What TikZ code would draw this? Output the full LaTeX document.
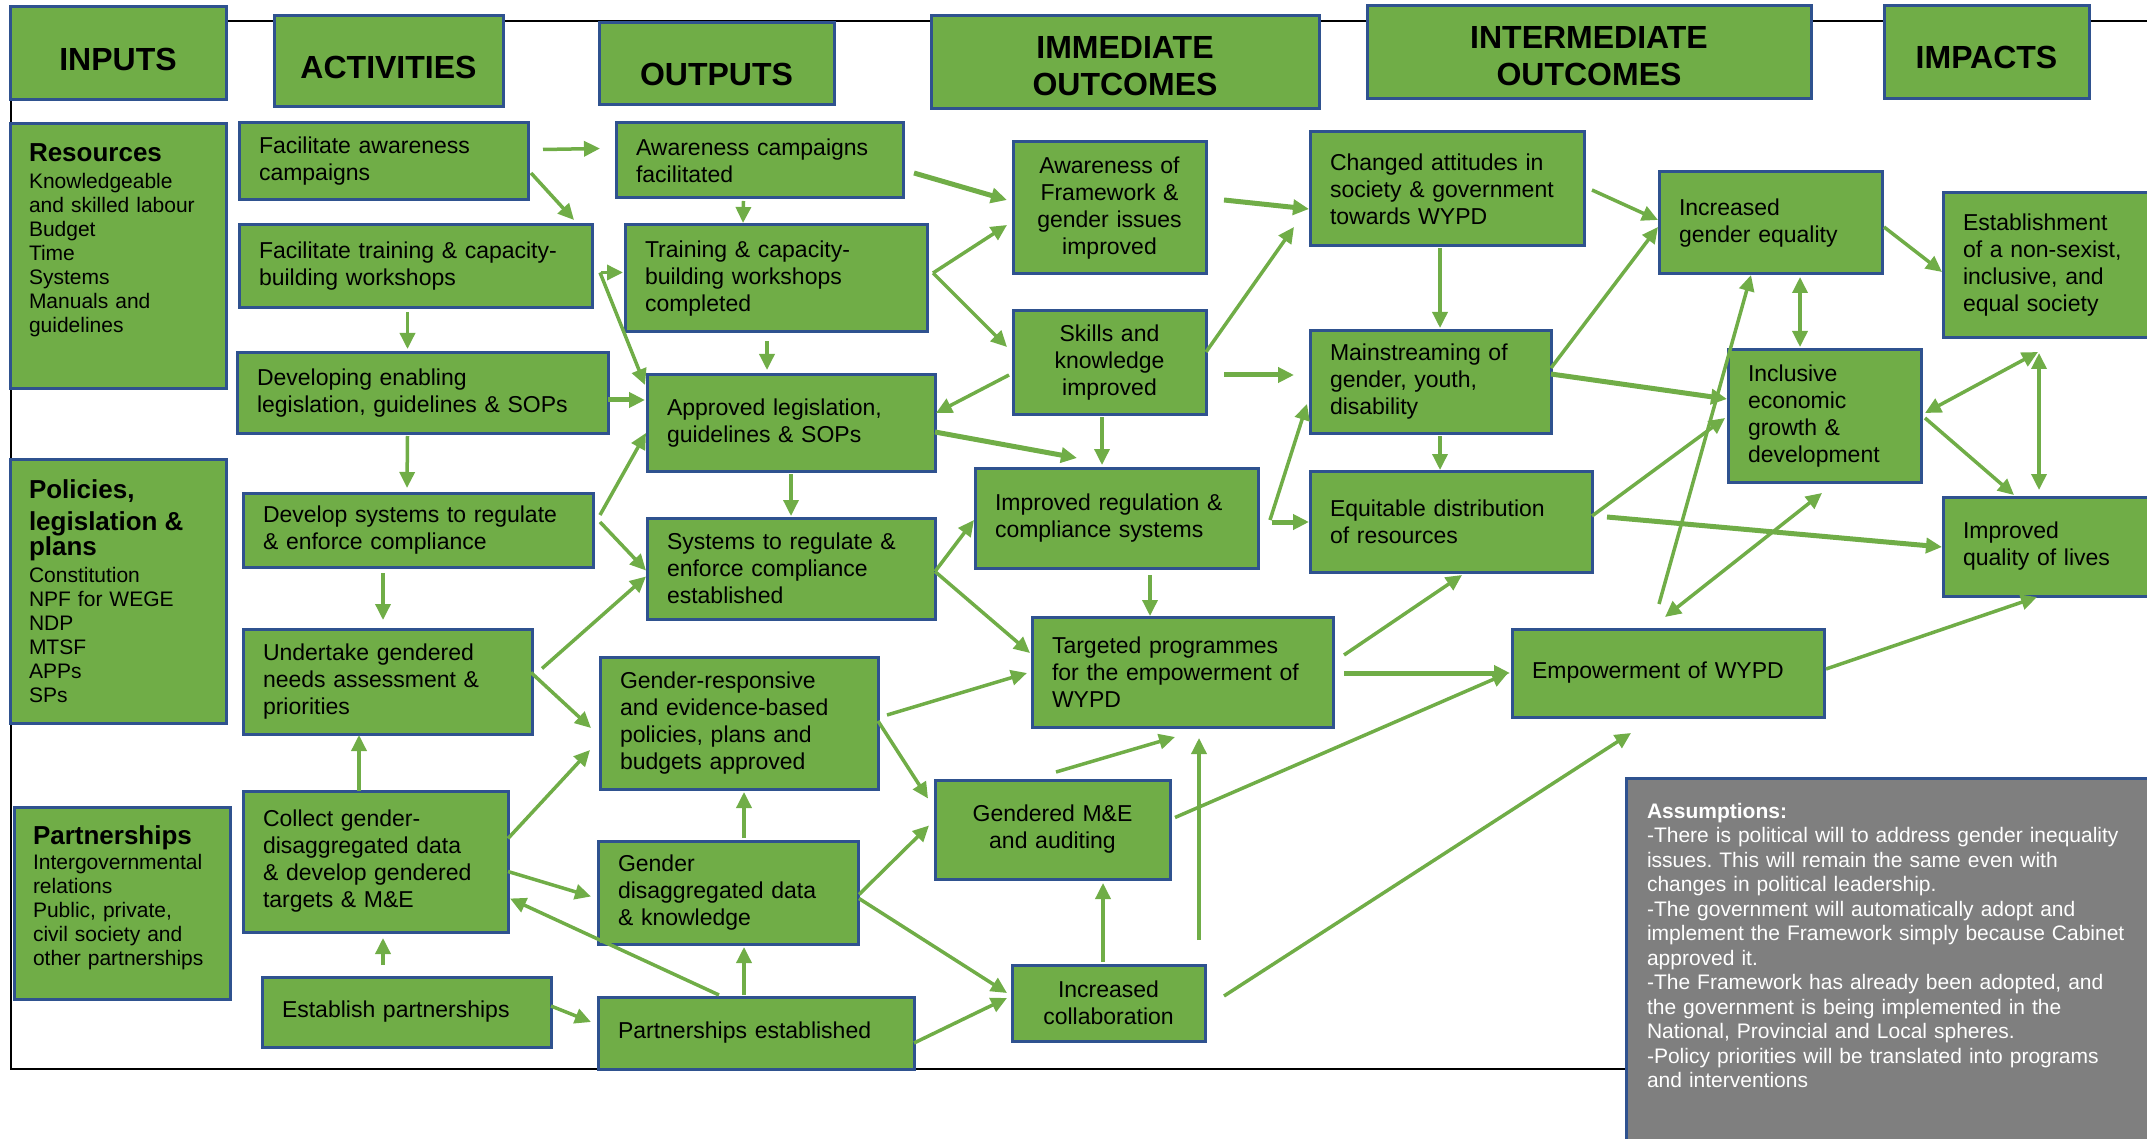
\documentclass[tikz,border=0pt]{standalone}
\usepackage{fontspec}
\setmainfont{Liberation Sans}
\frenchspacing
\usetikzlibrary{arrows.meta}
\definecolor{boxgreen}{HTML}{70AD47}
\definecolor{boxblue}{HTML}{2F528F}
\definecolor{notegray}{HTML}{7F7F7F}
\tikzstyle{box} = [draw=boxblue, fill=boxgreen, line width=3pt, 
anchor=north west, outer sep=0pt, inner xsep=20pt, inner ysep=0pt,
align=left, text=black, font=\fontsize{23}{27}\selectfont]
\tikzstyle{mid} = [box, inner xsep=15pt, align=center]
\tikzstyle{head} = [box, align=center, font=\fontsize{32}{37}\selectfont\bfseries]
\tikzstyle{input} = [box, inner xsep=19pt, font=\fontsize{21}{24}\selectfont]
\tikzstyle{note} = [box, fill=notegray, text=white, inner xsep=21pt, 
inner ysep=25pt, font=\fontsize{21}{24.5}\selectfont]
\tikzstyle{line} = [draw=boxgreen, line width=3.5pt, 
-{Triangle[length=16pt,width=15pt]}]
\tikzstyle{bold line} = [line, line width=5pt]
\tikzstyle{twoway} = [line, 
{Triangle[length=16pt,width=15pt]}-{Triangle[length=16pt,width=15pt]}]

\begin{document}
\begin{tikzpicture}[x=1pt, y=-1pt]
    \useasboundingbox (0,0) rectangle (2147,1139);
    \draw [line width=2.5pt] (11,21) rectangle (2170,1069);
    %% Headings
    \node [head, text width=176pt, minimum height=93pt, text height=34pt] (inputs) at (10,7) {INPUTS};
    \node [head, text width=189pt, minimum height=91pt, text height=34pt] (activities) at (274,16) {ACTIVITIES};
    \node [head, text width=195pt, minimum height=82pt, text height=43pt] (outputs) at (599,23) {OUTPUTS};
    \node [head, text width=348pt, minimum height=93pt, text height=29pt] (immediate) at (931,16) {IMMEDIATE\\OUTCOMES};
    \node [head, text width=404pt, minimum height=93pt, text height=29pt] (intermediate) at (1367,6) {INTERMEDIATE\\OUTCOMES};
    \node [head, text width=165pt, minimum height=93pt, text height=33pt] (impacts) at (1884,6) {IMPACTS};
    %% Inputs
    \node [input, text width=178pt, minimum height=265pt, text depth=207pt] (resources) at (10,124)
      {{\bfseries\fontsize{26}{32}\selectfont Resources}\\[3pt]Knowledgeable\\and skilled labour\\Budget\\Time\\Systems\\Manuals and\\guidelines};
    \node [input, text width=178pt, minimum height=264pt] (policies) at (10,459)
      {{\bfseries\fontsize{26}{32}\selectfont Policies,\\legislation \&\\plans}\\[3pt]Constitution\\NPF for WEGE\\NDP\\MTSF\\APPs\\SPs};
    \node [input, text width=178pt, minimum height=192pt, text depth=136pt] (partners) at (14,807)
      {{\bfseries\fontsize{26}{32}\selectfont Partnerships}\\[1pt]Intergovernmental\\relations\\Public, private,\\civil society and\\other partnerships};
    %% Activities
    \node [box, text width=249pt, minimum height=77pt] (facaware) at (239,123) {Facilitate awareness\\campaigns};
    \node [box, text width=313pt, minimum height=83pt] (factrain) at (239,225) {Facilitate training \& capacity-\\building workshops};
    \node [box, text width=331pt, minimum height=80pt] (devleg) at (237,353) {Developing enabling\\legislation, guidelines \& SOPs};
    \node [box, text width=310pt, minimum height=74pt] (devsys) at (243,493) {Develop systems to regulate\\\& enforce compliance};
    \node [box, text width=249pt, minimum height=105pt] (undertake) at (243,629) {Undertake gendered\\needs assessment \&\\priorities};
    \node [box, text width=225pt, minimum height=141pt] (collect) at (243,791) {Collect gender-\\disaggregated data\\\& develop gendered\\targets \& M\&E};
    \node [box, text width=249pt, minimum height=70pt] (estpart) at (262,977) {Establish partnerships};
    %% Outputs
    \node [box, text width=247pt, minimum height=75pt] (awarefac) at (616,123) {Awareness campaigns\\facilitated};
    \node [box, text width=262pt, minimum height=107pt] (traindone) at (625,225) {Training \& capacity-\\building workshops\\completed};
    \node [box, text width=248pt, minimum height=96pt] (apprleg) at (647,375) {Approved legislation,\\guidelines \& SOPs};
    \node [box, text width=248pt, minimum height=101pt] (sysreg) at (647,518) {Systems to regulate \&\\enforce compliance\\established};
    \node [box, text width=238pt, minimum height=132pt] (genresp) at (600,657) {Gender-responsive\\and evidence-based\\policies, plans and\\budgets approved};
    \node [box, text width=220pt, minimum height=103pt] (gendata) at (598,841) {Gender\\disaggregated data\\\& knowledge};
    \node [box, text width=276pt, minimum height=72pt] (partest) at (598,997) {Partnerships established};
    %% Immediate outcomes
    \node [mid, text width=163pt, minimum height=132pt] (awarefw) at (1013,142) {Awareness of\\Framework \&\\gender issues\\improved};
    \node [mid, text width=163pt, minimum height=103pt] (skills) at (1013,311) {Skills and\\knowledge\\improved};
    \node [box, text width=243pt, minimum height=100pt] (impreg) at (975,468) {Improved regulation \&\\compliance systems};
    \node [box, text width=261pt, minimum height=110pt] (targeted) at (1032,617) {Targeted programmes\\for the empowerment of\\WYPD};
    \node [mid, text width=205pt, minimum height=99pt] (gendme) at (935,780) {Gendered M\&E\\and auditing};
    \node [mid, text width=163pt, minimum height=76pt] (inccollab) at (1012,965) {Increased\\collaboration};
    %% Intermediate outcomes
    \node [box, text width=234pt, minimum height=114pt] (changed) at (1310,132) {Changed attitudes in\\society \& government\\towards WYPD};
    \node [box, text width=201pt, minimum height=102pt] (mainstream) at (1310,331) {Mainstreaming of\\gender, youth,\\disability};
    \node [box, text width=242pt, minimum height=101pt] (equit) at (1310,471) {Equitable distribution\\of resources};
    \node [box, text width=272pt, minimum height=88pt] (empower) at (1512,629) {Empowerment of WYPD};
    %% Impacts
    \node [box, text width=183pt, minimum height=102pt] (gendereq) at (1659,172) {Increased\\gender equality};
    \node [box, text width=153pt, minimum height=132pt] (inclusive) at (1728,350) {Inclusive\\economic\\growth \&\\development};
    \node [box, text width=187pt, minimum height=145pt] (establish) at (1943,193) {Establishment\\of a non-sexist,\\inclusive, and\\equal society};
    \node [box, text width=187pt, minimum height=99pt] (qol) at (1943,497) {Improved\\quality of lives};
    %% Assumptions
    \node [note, text width=495pt] (assume) at (1626,778)
      {\textbf{Assumptions:}\\-There is political will to address gender inequality\\issues. This will remain the same even with\\changes in political leadership.\\-The government will automatically adopt and\\implement the Framework simply because Cabinet\\approved it.\\-The Framework has already been adopted, and\\the government is being implemented in the\\National, Provincial and Local spheres.\\-Policy priorities will be translated into programs\\and interventions\\[110pt]\mbox{}};
    %% Flows
    \path [line] ([shift={(15,-12)}]facaware.east) -- ([shift={(-16,-12)}]awarefac.west);
    \path [line] ([shift={(3,-27)}]facaware.south east) -- ([shift={(-18,-5)}]factrain.north east);
    \path [line] ([shift={(-16,3)}]awarefac.south) -- ([shift={(-33,-2)}]traindone.north);
    \path [line] ([shift={(-8,4)}]factrain.south) -- ([shift={(-15,-4)}]devleg.north);
    \path [line] ([shift={(9,6)}]factrain.east) -- ([shift={(-2,-6)}]traindone.west);
    \path [line] ([shift={(8,6)}]factrain.east) -- ([shift={(-2,10)}]apprleg.north west);
    \path [bold line] ([shift={(0,7)}]devleg.east) -- ([shift={(-2,-23)}]apprleg.west);
    \path [line] ([shift={(-9,9)}]traindone.south) -- ([shift={(-24,-5)}]apprleg.north);
    \path [line] ([shift={(-15,3)}]devleg.south) -- ([shift={(-11,-5)}]devsys.north);
    \path [line] ([shift={(0,3)}]apprleg.south) -- ([shift={(0,-2)}]sysreg.north);
    \path [line] ([shift={(7,-15)}]devsys.east) -- ([shift={(-1,10)}]apprleg.west);
    \path [line] ([shift={(7,-8)}]devsys.east) -- ([shift={(-1,2)}]sysreg.west);
    \path [line] ([shift={(-35,6)}]devsys.south) -- ([shift={(-4.5,-9)}]undertake.north);
    \path [line] ([shift={(10,-13)}]undertake.east) -- ([shift={(-1,8)}]sysreg.west);
    \path [line] ([shift={(-1,-9)}]undertake.east) -- ([shift={(-9,5)}]genresp.west);
    \path [line] ([shift={(-16.5,0)}]collect.north) -- ([shift={(-28.5,1)}]undertake.south);
    \path [line] ([shift={(0,-23)}]collect.east) -- ([shift={(-10,27)}]genresp.west);
    \path [line] ([shift={(0,10)}]collect.east) -- ([shift={(-7,4)}]gendata.west);
    \path [line] ([shift={(-37,-2)}]partest.north) -- ([shift={(2,37)}]collect.east);
    \path [line] ([shift={(-23.5,-12)}]estpart.north) -- ([shift={(7.5,6)}]collect.south);
    \path [line] ([shift={(0,-6)}]estpart.east) -- ([shift={(-7,-11)}]partest.west);
    \path [line] ([shift={(-12,-2)}]partest.north) -- ([shift={(16,3)}]gendata.south);
    \path [line] ([shift={(16,-3)}]gendata.north) -- ([shift={(5,3)}]genresp.south);
    \path [line] ([shift={(1,2)}]gendata.east) -- ([shift={(-6,-4)}]gendme.west);
    \path [line] ([shift={(1,6)}]gendata.east) -- ([shift={(-5,-10)}]inccollab.west);
    \path [line] ([shift={(0,10)}]partest.east) -- ([shift={(-5,-5)}]inccollab.west);
    \path [line] ([shift={(0,-2)}]genresp.east) -- ([shift={(-7,-31)}]gendme.west);
    \path [line] ([shift={(9,-8)}]genresp.east) -- ([shift={(-5,1)}]targeted.west);
    \path [line] ([shift={(3.5,-8)}]gendme.north) -- ([shift={(-7.5,10)}]targeted.south);
    \path [line] ([shift={(-6,-25)}]inccollab.north east) -- ([shift={(16.5,11)}]targeted.south);
    \path [line] ([shift={(-5.5,-3)}]inccollab.north) -- ([shift={(50.5,4)}]gendme.south);
    \path [line] ([shift={(5,-12)}]gendme.east) -- ([shift={(-4,0)}]empower.west);
    \path [line] ([shift={(19,-7)}]inccollab.east) -- ([shift={(-37,16)}]empower.south);
    \path [bold line] ([shift={(11,1)}]targeted.east) -- ([shift={(-2,0)}]empower.west);
    \path [line] ([shift={(11,-17)}]targeted.east) -- ([shift={(11,3)}]equit.south);
    \path [line] ([shift={(0,3)}]sysreg.east) -- ([shift={(-1,2)}]impreg.west);
    \path [line] ([shift={(0,3)}]sysreg.east) -- ([shift={(-2,-19)}]targeted.west);
    \path [bold line] ([shift={(0,9)}]apprleg.east) -- ([shift={(-39.5,-10)}]impreg.north);
    \path [line] ([shift={(-7.5,3)}]skills.south) -- ([shift={(-14.5,-3)}]impreg.north);
    \path [line] ([shift={(33.5,7)}]impreg.south) -- ([shift={(-32.5,-1)}]targeted.north);
    \path [bold line] ([shift={(14,4)}]impreg.east) -- ([shift={(-1,0.5)}]equit.west);
    \path [line] ([shift={(12,2)}]impreg.east) -- ([shift={(-3,22)}]mainstream.west);
    \path [line] ([shift={(-4,12.5)}]skills.west) -- ([shift={(1,-10)}]apprleg.east);
    \path [line] ([shift={(0,-10.5)}]skills.east) -- ([shift={(-16,38)}]changed.west);
    \path [bold line] ([shift={(18,12.5)}]skills.east) -- ([shift={(-16,-7)}]mainstream.west);
    \path [line] ([shift={(6,-5.5)}]traindone.east) -- ([shift={(-6,17)}]awarefw.west);
    \path [line] ([shift={(6,-5.5)}]traindone.east) -- ([shift={(-6,-15.5)}]skills.west);
    \path [bold line] ([shift={(11,12.5)}]awarefac.east) -- ([shift={(-6,-8)}]awarefw.west);
    \path [bold line] ([shift={(18,-8)}]awarefw.east) -- ([shift={(-1,20)}]changed.west);
    \path [line] ([shift={(-7,2)}]changed.south) -- ([shift={(9.5,-3)}]mainstream.north);
    \path [line] ([shift={(9.5,3)}]mainstream.south) -- ([shift={(-11,-1)}]equit.north);
    \path [line] ([shift={(8,1)}]changed.east) -- ([shift={(-1,-3)}]gendereq.west);
    \path [line] ([shift={(0,-14)}]mainstream.east) -- ([shift={(-1,4)}]gendereq.west);
    \path [bold line] ([shift={(0,-8)}]mainstream.east) -- ([shift={(-1,-17)}]inclusive.west);
    \path [line] ([shift={(0,-5.5)}]equit.east) -- ([shift={(-3,2)}]inclusive.west);
    \path [bold line] ([shift={(15,-4.5)}]equit.east) -- ([shift={(-1,0.5)}]qol.west);
    \path [line] ([shift={(-9,-25)}]empower.north) -- ([shift={(-19.5,1)}]gendereq.south);
    \path [twoway] ([shift={(-3,-12)}]empower.north) -- ([shift={(-2.5,11)}]inclusive.south);
    \path [twoway] ([shift={(29.5,3)}]gendereq.south) -- ([shift={(-24.5,-3)}]inclusive.north);
    \path [line] ([shift={(2,4)}]gendereq.east) -- ([shift={(-1,6.5)}]establish.west);
    \path [twoway] ([shift={(4,-3)}]inclusive.east) -- ([shift={(-18.5,14)}]establish.south);
    \path [twoway] ([shift={(-17.5,15)}]establish.south) -- ([shift={(-17.5,-7)}]qol.north);
    \path [line] ([shift={(4,2)}]inclusive.east) -- ([shift={(-42.5,-2)}]qol.north);
    \path [line] ([shift={(2,-4)}]empower.east) -- ([shift={(-19.5,1)}]qol.south);
\end{tikzpicture}
\end{document}
